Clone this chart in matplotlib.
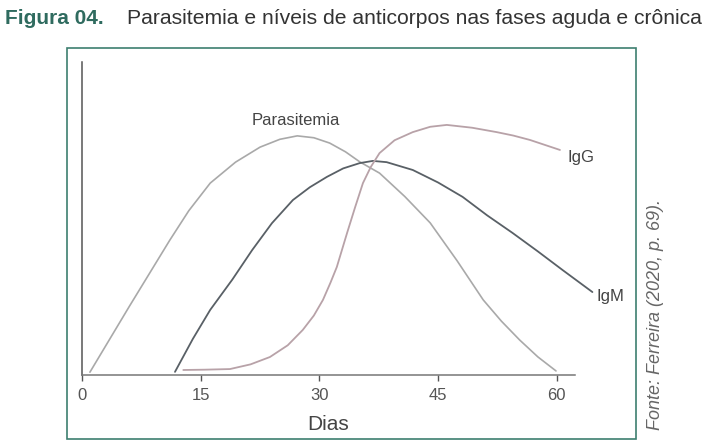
import matplotlib.pyplot as plt
from matplotlib.patches import Rectangle

# Curves (dias, nível relativo 0-100)
para_dias = [1.0, 6.0, 11.1, 13.5, 16.2, 19.4, 22.5, 25.0, 27.2, 29.3, 31.3, 33.3, 35.1,
             37.6, 40.8, 44.0, 47.4, 50.7, 53.0, 55.3, 57.6, 59.9]
para_nivel = [0.9, 22.0, 43.1, 52.5, 61.3, 68.0, 72.8, 75.3, 76.4, 75.8, 74.1, 71.3, 68.1,
              64.5, 57.0, 48.6, 36.5, 24.0, 17.2, 11.2, 5.8, 1.3]

igm_dias = [11.75, 14.0, 16.2, 19.0, 21.5, 24.0, 26.65, 28.8, 30.95, 33.0, 35.1, 36.75,
            38.5, 41.8, 45.0, 48.1, 51.2, 54.4, 57.6, 60.75, 64.5]
igm_nivel = [1.0, 11.5, 20.8, 30.5, 39.9, 48.5, 55.9, 60.0, 63.3, 66.0, 67.7, 68.4,
             68.0, 65.5, 61.5, 56.9, 51.0, 45.4, 39.5, 33.5, 26.5]

igg_dias = [12.8, 15.5, 18.7, 21.3, 23.75, 26.0, 27.9, 29.3, 30.45, 31.4, 32.2, 33.5, 34.5,
            35.5, 36.5, 37.6, 39.5, 41.8, 44.0, 46.1, 49.3, 52.4, 54.5, 56.6, 58.5, 60.4]
igg_nivel = [1.6, 1.7, 1.9, 3.4, 5.75, 9.5, 14.4, 19.0, 24.0, 29.5, 34.5, 45.4, 53.5,
             61.3, 66.5, 70.9, 75.0, 77.6, 79.3, 79.9, 79.0, 77.6, 76.5, 75.1, 73.5, 71.9]

xticks = [0, 15, 30, 45, 60]

plt.rcParams['font.family'] = ['Liberation Sans', 'DejaVu Sans']

W, H = 709, 441
fig = plt.figure(figsize=(W / 100, H / 100), dpi=100)
ax = fig.add_axes([82 / W, (H - 375) / H, 493 / W, 313 / H])
ax.set_xlim(0, 62.3)
ax.set_ylim(0, 100)

kw = dict(clip_on=False, solid_joinstyle='round', solid_capstyle='round')
ax.plot(para_dias, para_nivel, color='#a9a9a9', lw=1.2, **kw)
ax.plot(igm_dias, igm_nivel, color='#596066', lw=1.3, **kw)
ax.plot(igg_dias, igg_nivel, color='#b8a2a8', lw=1.3, **kw)

ax.text(27.0, 81.2, 'Parasitemia', ha='center', va='center', fontsize=12, color='#444444')
ax.text(61.4, 69.6, 'IgG', ha='left', va='center', fontsize=12, color='#444444')
ax.text(65.0, 25.2, 'IgM', ha='left', va='center', fontsize=12, color='#444444')

for s in ['top', 'right']:
    ax.spines[s].set_visible(False)
ax.spines['left'].set_color('#555555')
ax.spines['bottom'].set_color('#777777')
ax.spines['left'].set_linewidth(1.1)
ax.spines['bottom'].set_linewidth(1.1)
ax.set_yticks([])
ax.set_xticks(xticks)
ax.tick_params(axis='x', direction='out', length=4, width=1, color='#555555',
               labelsize=12, labelcolor='#555555', pad=5)
ax.patch.set_alpha(0)

fig.text(328 / W, (H - 424) / H, 'Dias', ha='center', va='center', fontsize=15, color='#444444')

fig.text(5 / W, (H - 24) / H, 'Figura 04.', ha='left', va='baseline', fontsize=15,
         fontweight='bold', color='#2f6b5f')
fig.text(127 / W, (H - 24) / H, 'Parasitemia e níveis de anticorpos nas fases aguda e crônica',
         ha='left', va='baseline', fontsize=15.2, color='#333333')

fig.text(655 / W, (H - 315) / H, 'Fonte: Ferreira (2020, p. 69).', rotation=90,
         ha='center', va='center', fontsize=13, style='italic', color='#666666')

fig.add_artist(Rectangle((67 / W, (H - 439) / H), (636 - 67) / W, (439 - 48) / H,
                         transform=fig.transFigure, fill=False, edgecolor='#3d7f70', lw=1.2))

fig.savefig('out.png', dpi=100)
